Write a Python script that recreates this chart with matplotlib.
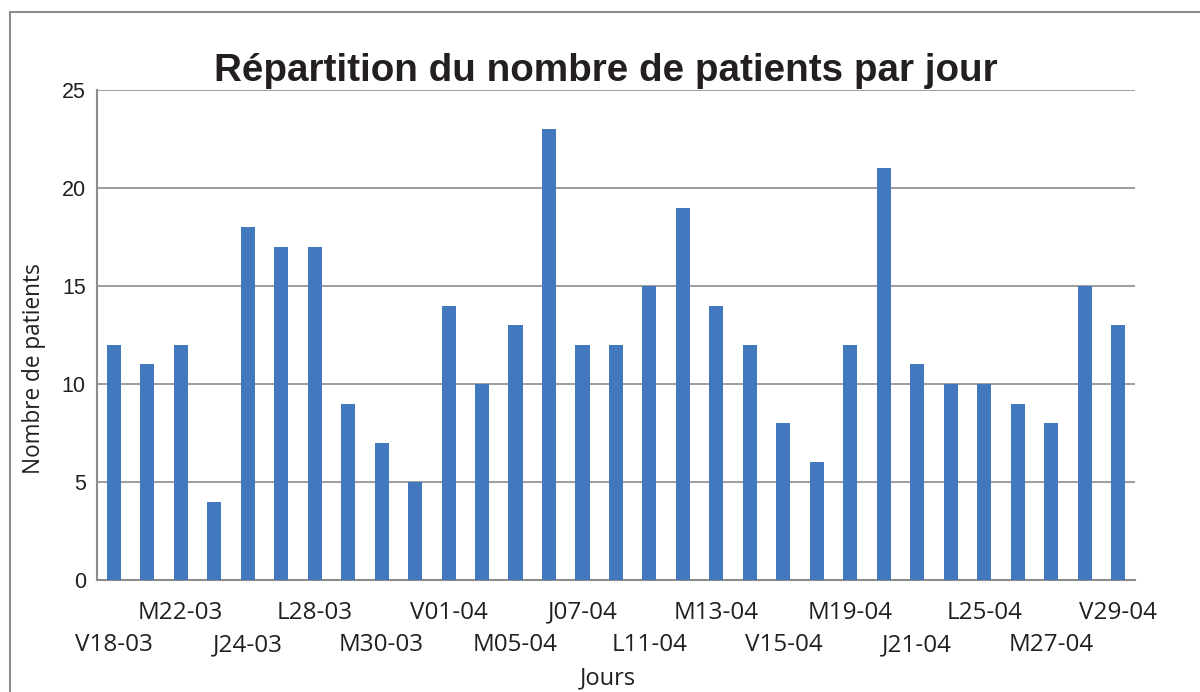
import matplotlib.pyplot as plt
from matplotlib.patches import Rectangle

# jours ouvrés du 18-03 au 29-04
jours = ["V18-03", "L21-03", "M22-03", "M23-03", "J24-03", "V25-03", "L28-03", "M29-03",
         "M30-03", "J31-03", "V01-04", "L04-04", "M05-04", "M06-04", "J07-04", "V08-04",
         "L11-04", "M12-04", "M13-04", "J14-04", "V15-04", "L18-04", "M19-04", "M20-04",
         "J21-04", "V22-04", "L25-04", "M26-04", "M27-04", "J28-04", "V29-04"]
patients = [12, 11, 12, 4, 18, 17, 17, 9, 7, 5, 14, 10, 13, 23, 12, 12,
            15, 19, 14, 12, 8, 6, 12, 21, 11, 10, 10, 9, 8, 15, 13]
y_ticks = [0, 5, 10, 15, 20, 25]

plt.rcParams['font.family'] = ['Liberation Sans', 'DejaVu Sans']

fig = plt.figure(figsize=(12, 6.92), dpi=100)
ax = fig.add_axes([0.0808, 0.1618, 0.865, 0.708])

x = list(range(len(jours)))
ax.bar(x, patients, width=0.42, color="#4178BE", zorder=3)

ax.set_xlim(-0.5, len(jours) - 0.5)
ax.set_ylim(0, 25)
ax.set_yticks(y_ticks)
ax.tick_params(axis="y", length=0, labelsize=15.5, pad=8, colors="#231f20")
ax.set_xticks([])
ax.grid(axis="y", color="#8c8c8c", linewidth=1.2, zorder=0)
for side in ["top", "right"]:
    ax.spines[side].set_visible(False)
for side in ["left", "bottom"]:
    ax.spines[side].set_color("#8c8c8c")
    ax.spines[side].set_linewidth(1.5)

# étiquettes décalées sur deux rangées, une sur deux
trans = ax.get_xaxis_transform()
for i, lab in enumerate(jours):
    if i % 2:
        continue
    yy = -0.067 if i % 4 == 2 else -0.133
    ax.text(i, yy, lab, transform=trans, ha="center", va="center",
            fontsize=17.5, color="#231f20", family=["Open Sans", "DejaVu Sans"])

fig.text(0.505, 0.897, "Répartition du nombre de patients par jour",
         ha="center", va="center", fontsize=27.8, fontweight="bold", color="#231f20")
fig.text(0.028, 0.468, "Nombre de patients", rotation=90, ha="center", va="center",
         fontsize=16.3, color="#231f20", family=["Open Sans", "DejaVu Sans"])
fig.text(0.507, 0.02, "Jours", ha="center", va="center",
         fontsize=17, color="#231f20", family=["Open Sans", "DejaVu Sans"])

fig.patches.append(Rectangle((10 / 1200, -0.1), 1.2, 1.1 - 12 / 692, transform=fig.transFigure,
                             fill=False, edgecolor="#8c8c8c", linewidth=1.5))

fig.savefig("out.png", dpi=100)
